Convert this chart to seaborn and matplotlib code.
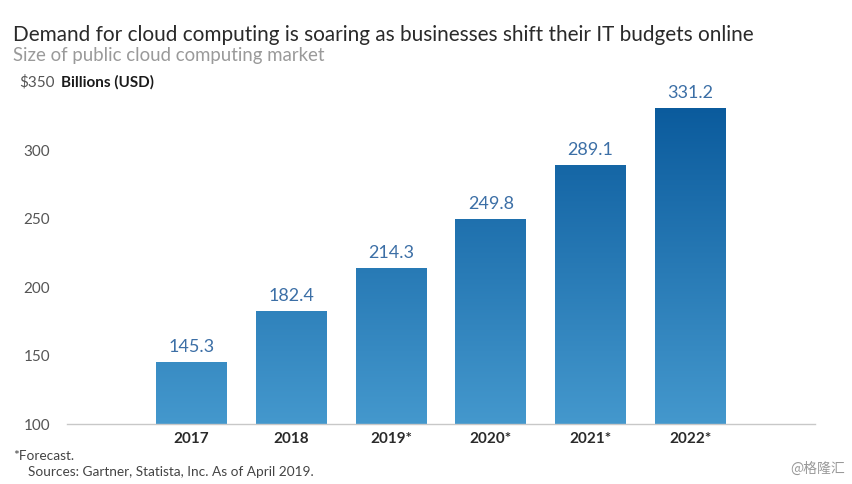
import numpy as np
import pandas as pd
import seaborn as sns
import matplotlib.pyplot as plt
from matplotlib.colors import LinearSegmentedColormap

years = ["2017", "2018", "2019*", "2020*", "2021*", "2022*"]
market = [145.3, 182.4, 214.3, 249.8, 289.1, 331.2]
y_ticks = [100, 150, 200, 250, 300]

df = pd.DataFrame({"year": years, "market": market})

sns.set_theme(style="white")
plt.rcParams["font.family"] = ["Lato", "DejaVu Sans"]

fig = plt.figure(figsize=(8.53, 4.84), dpi=100)
ax = fig.add_axes([67 / 853, 1 - 424 / 484, (815 - 67) / 853, (424 - 82) / 484])

sns.barplot(data=df, x="year", y="market", color="#2f7fbf", width=0.71, ax=ax)
ax.set_ylim(100, 350)
ax.set_xlim(-1.25, 6.25)

# vertical gradient clipped to each bar
grad_cmap = LinearSegmentedColormap.from_list("blues", ["#4498cd", "#0a5a9c"])
grad = np.linspace(0, 1, 256).reshape(-1, 1)
for bar in ax.patches:
    img = ax.imshow(grad, cmap=grad_cmap, aspect="auto", origin="lower",
                    extent=[-1.25, 6.25, 100, 335], zorder=bar.get_zorder())
    img.set_clip_path(bar)
    bar.set_alpha(0)

for i, v in enumerate(market):
    ax.text(i, v + 5, f"{v:.1f}", ha="center", va="bottom", fontsize=13,
            color="#3c6fa6")

sns.despine(ax=ax, left=True, top=True, right=True)
ax.spines["bottom"].set_color("#c8c8c8")
ax.spines["bottom"].set_linewidth(1.0)
ax.set_yticks(y_ticks)
ax.set_yticklabels([str(t) for t in y_ticks], fontsize=11, color="#555555")
ax.tick_params(axis="y", length=0, pad=12)
ax.tick_params(axis="x", length=0, pad=6)
for lbl in ax.get_xticklabels():
    lbl.set_fontweight("bold")
    lbl.set_fontsize(11)
    lbl.set_color("#2a2a2a")
ax.set_xlabel("")
ax.set_ylabel("")

fig.text(13 / 853, 1 - 35 / 484, "Demand for cloud computing is soaring as businesses shift their IT budgets online",
         fontsize=14.95, color="#2a2a2a", va="center", ha="left")
fig.text(13 / 853, 1 - 56 / 484, "Size of public cloud computing market",
         fontsize=13.4, color="#9a9a9a", va="center", ha="left")
fig.text(55 / 853, 1 - 82 / 484, "$350", fontsize=11, color="#555555", va="center", ha="right")
fig.text(61 / 853, 1 - 82 / 484, "Billions (USD)", fontsize=11, color="#1a1a1a",
         fontweight="bold", va="center", ha="left")
fig.text(13 / 853, 1 - 456 / 484, "*Forecast.", fontsize=9.8, color="#444444", va="center", ha="left")
fig.text(28 / 853, 1 - 472 / 484, "Sources: Gartner, Statista, Inc. As of April 2019.",
         fontsize=9.8, color="#444444", va="center", ha="left")
fig.text(845 / 853, 1 - 469 / 484, "@格隆汇", fontsize=10, color="#999999", va="center", ha="right",
         family=["Noto Sans CJK SC", "DejaVu Sans"])

fig.savefig("out.png", dpi=100)
